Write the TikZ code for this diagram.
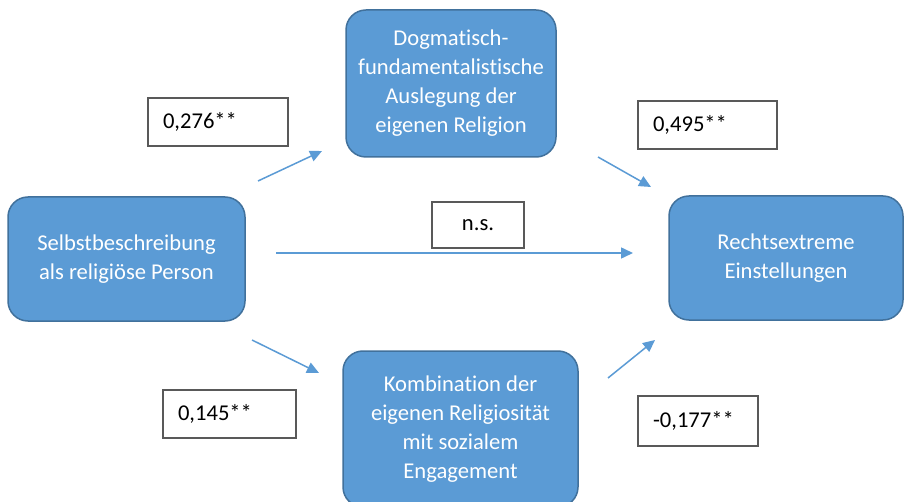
\documentclass[tikz,border=0pt]{standalone}
\usepackage{fontspec}
\setmainfont{Carlito}[RawFeature={-liga;-clig;-calt;-dlig}]
\usetikzlibrary{arrows.meta}
\definecolor{boxblue}{HTML}{5B9BD5}
\definecolor{boxborder}{HTML}{41719C}
\definecolor{labborder}{HTML}{595959}
\tikzset{
  varbox/.style={draw=boxborder, line width=1.5pt, fill=boxblue, rounded corners=20pt,
    text=white, align=center, font=\fontsize{22.6}{29}\selectfont, inner sep=0pt},
  coefbox/.style={draw=labborder, line width=1.3pt, fill=white, text=black,
    font=\fontsize{22.6}{26}\selectfont, inner ysep=0pt},
  pathArrow/.style={draw=boxblue, line width=1.5pt, -{Triangle[length=12pt,width=11pt]}}
}
\begin{document}
\begin{tikzpicture}[x=1pt,y=-1pt]
\clip (0,0) rectangle (904,502);
\fill[white] (0,0) rectangle (904,502);
% variable boxes
\node[varbox, minimum width=237, minimum height=124] (self) at (126.5,259)
  {Selbstbeschreibung\\als religiöse Person};
\node[varbox, minimum width=210, minimum height=147] (dogma) at (451,83.5)
  {Dogmatisch-\\fundamentalistische\\Auslegung der\\eigenen Religion};
\node[varbox, minimum width=234, minimum height=124] (rechts) at (786,258)
  {Rechtsextreme\\Einstellungen};
\node[varbox, minimum width=235, minimum height=156] (komb) at (460.5,429)
  {Kombination der\\eigenen Religiosität\\mit sozialem\\Engagement};
% coefficient boxes
\node[coefbox, minimum width=140, minimum height=48, text width=110, inner xsep=15, align=left] (c1) at (218,122) {0,276**};
\node[coefbox, minimum width=139, minimum height=48, text width=109, inner xsep=15, align=left] (c2) at (707.5,125) {0,495**};
\node[coefbox, minimum width=92, minimum height=46, align=center] (c3) at (478,225) {n.s.};
\node[coefbox, minimum width=133, minimum height=48, text width=103, inner xsep=15, align=left] (c4) at (229.5,414) {0,145**};
\node[coefbox, minimum width=120, minimum height=50, text width=90, inner xsep=15, align=left] (c5) at (698,421) {-0,177**};
% arrow end points
\coordinate (a1s) at (258,181); \coordinate (a1e) at (322,151);
\coordinate (a2s) at (598,157); \coordinate (a2e) at (651,187);
\coordinate (a3s) at (276,253); \coordinate (a3e) at (633,253);
\coordinate (a4s) at (252,340); \coordinate (a4e) at (319,373);
\coordinate (a5s) at (608,378); \coordinate (a5e) at (655,340);
\draw[pathArrow] (a1s) -- (a1e);
\draw[pathArrow] (a2s) -- (a2e);
\draw[pathArrow] (a3s) -- (a3e);
\draw[pathArrow] (a4s) -- (a4e);
\draw[pathArrow] (a5s) -- (a5e);
\end{tikzpicture}
\end{document}
